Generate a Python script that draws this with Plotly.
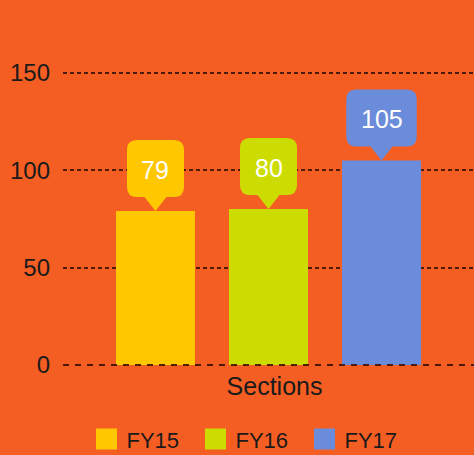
import plotly.graph_objects as go

categories = ["Sections"]
series_names = ["FY15", "FY16", "FY17"]
series_values = [[79], [80], [105]]
colors = ["#FFC700", "#CCDC00", "#6B8CDB"]
y_ticks = [0, 50, 100, 150]

BG = "#F55E23"
FONT = "Liberation Sans"
TXT = "#1a1a1a"
GRID = "rgba(60,20,5,0.9)"
bargap = 0.175
bargroupgap = 0.301

fig = go.Figure()
for name, vals, col in zip(series_names, series_values, colors):
    fig.add_trace(go.Bar(
        x=categories, y=vals, name=name, legendgroup=name, showlegend=False,
        marker=dict(color=col, line=dict(width=0)),
        hoverinfo="skip",
    ))
# legend entries (square swatches)
for name, col in zip(series_names, colors):
    fig.add_trace(go.Scatter(
        x=[None], y=[None], name=name, legendgroup=name, mode="markers",
        marker=dict(symbol="square", size=16, color=col, line=dict(color=col, width=5)),
        hoverinfo="skip",
    ))

# callouts above each bar
n = len(series_names)
slot = (1 - bargap) / n
shapes = []
annotations = []
ptr_h, box_h, r, pw = 14, 57, 10, 11
for i, (vals, col) in enumerate(zip(series_values, colors)):
    v = vals[0]
    xc = (i - (n - 1) / 2) * slot
    label = str(v)
    w = 30 + 13.5 * len(label)
    hw = w / 2
    top = ptr_h + box_h
    path = (
        f"M0,0 L{-pw},{ptr_h} L{-hw + r},{ptr_h} Q{-hw},{ptr_h} {-hw},{ptr_h + r} "
        f"L{-hw},{top - r} Q{-hw},{top} {-hw + r},{top} "
        f"L{hw - r},{top} Q{hw},{top} {hw},{top - r} "
        f"L{hw},{ptr_h + r} Q{hw},{ptr_h} {hw - r},{ptr_h} L{pw},{ptr_h} Z"
    )
    shapes.append(dict(
        type="path", xref="x", yref="y", xsizemode="pixel", ysizemode="pixel",
        xanchor=xc, yanchor=v, path=path, fillcolor=col, line=dict(width=0),
        layer="above",
    ))
    annotations.append(dict(
        x=xc, y=v, xref="x", yref="y", text=label, showarrow=False,
        yshift=ptr_h + box_h / 2 - 1, font=dict(family=FONT, size=25, color="white"),
    ))

# dashed baseline along the bottom of the plot area (value axis starts at 0)
shapes.append(dict(
    type="line", xref="paper", yref="paper", x0=0, x1=1, y0=0, y1=0,
    line=dict(color=GRID, width=2, dash="6px,6px"), layer="above",
))

fig.update_layout(
    width=474, height=455,
    paper_bgcolor=BG, plot_bgcolor=BG,
    margin=dict(l=63, r=0, t=24, b=90, autoexpand=False),
    barmode="group", bargap=bargap, bargroupgap=bargroupgap,
    font=dict(family=FONT, size=22, color=TXT),
    shapes=shapes, annotations=annotations,
    showlegend=True,
    legend=dict(orientation="h", x=0.455, xanchor="center", y=-0.156, yanchor="top",
                entrywidth=64,
                font=dict(family=FONT, size=22, color=TXT), itemsizing="trace",
                itemclick=False, itemdoubleclick=False),
    xaxis=dict(showgrid=False, showline=False, zeroline=False, ticks="",
               tickfont=dict(size=25), ticklabelstandoff=4, ticklabelshift=6),
    yaxis=dict(range=[0, 175], tickvals=y_ticks, showgrid=True,
               gridcolor=GRID, griddash="4px,3px", gridwidth=1.6,
               zeroline=False, showline=False, ticks="", ticklabelstandoff=12,
               tickfont=dict(size=24)),
)

fig.write_html("out.html", config={"displayModeBar": False},
               post_script="document.body.style.margin='0';")
